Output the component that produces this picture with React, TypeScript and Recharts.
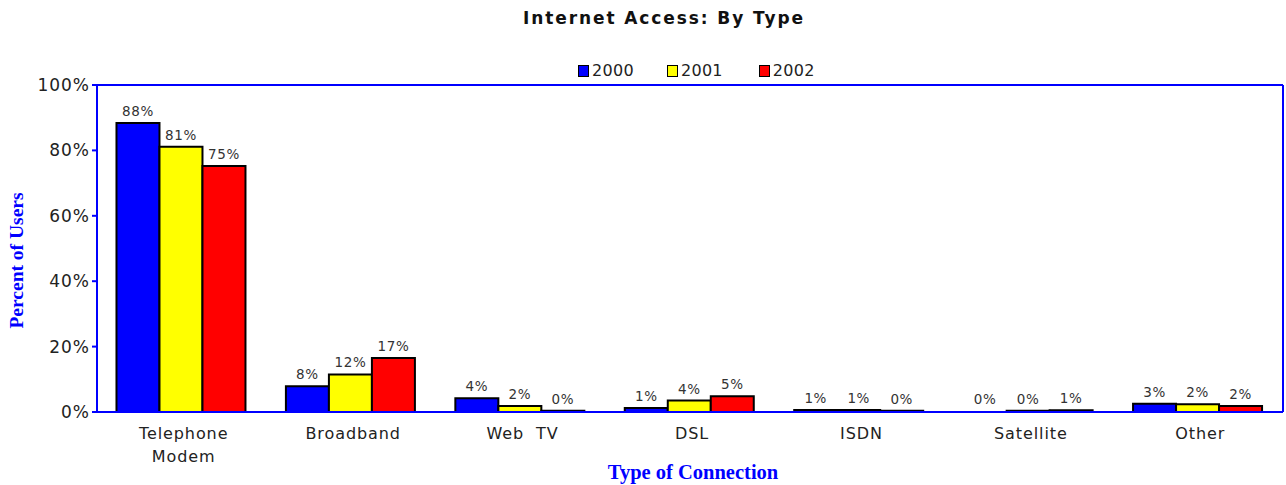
import React from 'react';
import { BarChart, Bar, XAxis, YAxis, LabelList, ReferenceLine, Cell } from 'recharts';

const categories = ['Telephone\nModem', 'Broadband', 'Web  TV', 'DSL', 'ISDN', 'Satellite', 'Other'];
const series2000 = [88.4, 7.9, 4.2, 1.2, 0.6, 0, 2.5];
const series2001 = [81.1, 11.5, 1.8, 3.5, 0.6, 0.4, 2.4];
const series2002 = [75.2, 16.5, 0.4, 4.8, 0.4, 0.5, 1.8];
const yTicks = [0, 20, 40, 60, 80, 100];
const seriesNames = ['2000', '2001', '2002'];
const seriesColors = ['#0000ff', '#ffff00', '#ff0000'];
const seriesValues = [series2000, series2001, series2002];
const seriesKeys = ['y2000', 'y2001', 'y2002'];

const data = categories.map((c, i) => ({
  name: c,
  y2000: series2000[i],
  y2001: series2001[i],
  y2002: series2002[i],
}));

const FONT = '"DejaVu Sans", Verdana, sans-serif';
const SERIF = '"Liberation Serif", "Times New Roman", serif';
const BLUE = '#0000ff';

const CatTick = (props: any) => {
  const { x, y, payload } = props;
  const lines = String(payload.value).split('\n');
  return (
    <g>
      {lines.map((l: string, i: number) => (
        <text key={i} x={x + 2} y={y + 19 + i * 23} textAnchor="middle" fontFamily={FONT} fontSize={16} letterSpacing={0.9} fill="#222" style={{ whiteSpace: 'pre' }}>
          {l}
        </text>
      ))}
    </g>
  );
};

const YLabel = (props: any) => {
  const { viewBox } = props;
  const cx = 16;
  const cy = viewBox.y + viewBox.height / 2 + 12;
  return (
    <text x={cx} y={cy} transform={`rotate(-90 ${cx} ${cy})`} textAnchor="middle" dominantBaseline="central" fill={BLUE} fontFamily={SERIF} fontWeight="bold" fontSize={19.5}>
      Percent of Users
    </text>
  );
};

const XLabel = (props: any) => {
  const { viewBox } = props;
  const cx = viewBox.x + viewBox.width / 2 + 3;
  return (
    <text x={cx} y={472} textAnchor="middle" dominantBaseline="central" fill={BLUE} fontFamily={SERIF} fontWeight="bold" fontSize={20.5}>
      Type of Connection
    </text>
  );
};

const labelFmt = (v: any) => `${Math.round(Number(v))}%`;
const labelStyle = { fontFamily: FONT, fontSize: 13.5, letterSpacing: 0.6, fill: '#333' };
const legendGaps = [33, 36, 0];

export default function App() {
  return (
    <div style={{ position: 'absolute', left: 0, top: 0, width: 1286, height: 485, background: '#fff' }}>
      <div style={{ position: 'absolute', top: 8, left: 0, width: 1328, textAlign: 'center', fontFamily: FONT, fontWeight: 'bold', fontSize: 17, letterSpacing: 1.9, color: '#111' }}>
        Internet Access: By Type
      </div>
      <div style={{ position: 'absolute', top: 61, left: 578, display: 'flex', alignItems: 'center', fontFamily: FONT, fontSize: 16, letterSpacing: 0.3, color: '#222' }}>
        {seriesNames.map((n, i) => (
          <div key={n} style={{ display: 'flex', alignItems: 'center', marginRight: legendGaps[i] }}>
            <span style={{ display: 'inline-block', width: 9, height: 10, background: seriesColors[i], border: '1.5px solid #000', marginRight: 3 }} />
            <span>{n}</span>
          </div>
        ))}
      </div>
      <div style={{ position: 'absolute', left: 0, top: 0 }}>
        <BarChart width={1286} height={485} data={data} margin={{ top: 85, right: 0, bottom: 0, left: 0 }} barCategoryGap="11.5%" barGap={0}>
          <XAxis dataKey="name" height={73} tick={<CatTick />} tickLine={false} axisLine={{ stroke: BLUE, strokeWidth: 2 }} interval={0}
            label={<XLabel />} />
          <YAxis width={97} domain={[0, 100]} ticks={yTicks} tickFormatter={(v: number) => `${v}%`} interval={0}
            tick={{ fontFamily: FONT, fontSize: 17, letterSpacing: 1, fill: '#222' }} tickLine={{ stroke: BLUE, strokeWidth: 2 }} tickSize={5} axisLine={{ stroke: BLUE, strokeWidth: 2 }}
            label={<YLabel />} />
          <YAxis yAxisId="right" orientation="right" width={3} domain={[0, 100]} tick={false} tickLine={false} axisLine={{ stroke: BLUE, strokeWidth: 2 }} />
          <ReferenceLine y={100} stroke={BLUE} strokeWidth={2} />
          {seriesKeys.map((k, si) => (
            <Bar key={k} dataKey={k} name={seriesNames[si]} fill={seriesColors[si]} stroke="#000" strokeWidth={2} minPointSize={1} isAnimationActive={false}>
              {seriesValues[si].map((v, i) => (
                <Cell key={i} fill={v === 0 ? 'none' : seriesColors[si]} stroke={v === 0 ? 'none' : '#000'} />
              ))}
              <LabelList dataKey={k} position="top" offset={7} formatter={labelFmt} style={labelStyle} />
            </Bar>
          ))}
        </BarChart>
      </div>
    </div>
  );
}
